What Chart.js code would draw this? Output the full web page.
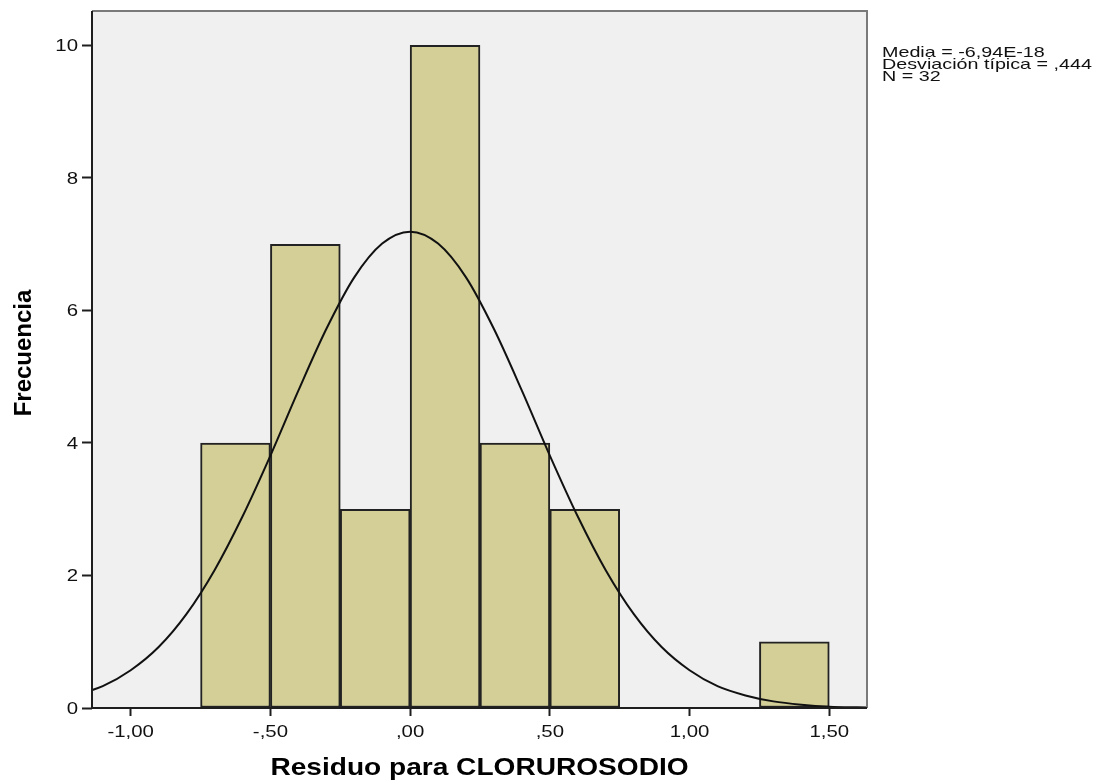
<!DOCTYPE html>
<html>
<head>
<meta charset="utf-8">
<title>Histograma de residuos</title>
<script src="https://cdn.jsdelivr.net/npm/chart.js@4.4.1/dist/chart.umd.min.js"></script>
<style>
  html, body { margin: 0; padding: 0; background: #ffffff; }
  #wrap { width: 1103px; height: 781px; }
</style>
</head>
<body>
<div id="wrap"><canvas id="c" width="1103" height="781"></canvas></div>
<script>
// Histogram bins (residual intervals) and their counts
const binStarts = [-0.75, -0.5, -0.25, 0, 0.25, 0.5, 1.25];
const binEnds = [-0.5, -0.25, 0, 0.25, 0.5, 0.75, 1.5];
const frequencies = [4, 7, 3, 10, 4, 3, 1];

// Fitted normal curve, sampled along the residual axis
const curveX = [-1.2, -1.1, -1.0, -0.9, -0.8, -0.7, -0.6, -0.5, -0.4, -0.3, -0.2, -0.1, 0,
                0.1, 0.2, 0.3, 0.4, 0.5, 0.6, 0.7, 0.8, 0.9, 1.0, 1.1, 1.2, 1.3, 1.4, 1.5, 1.6, 1.7];
const curveY = [0.19, 0.33, 0.57, 0.92, 1.42, 2.08, 2.89, 3.81, 4.79, 5.72, 6.50, 7.01, 7.19,
                7.01, 6.50, 5.72, 4.79, 3.81, 2.89, 2.08, 1.42, 0.92, 0.57, 0.33, 0.19, 0.10, 0.05, 0.02, 0.01, 0.005];

// Axis ticks
const xTickValues = [-1, -0.5, 0, 0.5, 1, 1.5];
const xTickLabels = ['-1,00', '-,50', ',00', ',50', '1,00', '1,50'];
const yTickValues = [0, 2, 4, 6, 8, 10];
const yTickLabels = ['0', '2', '4', '6', '8', '10'];

// Titles and summary statistics
const xTitle = 'Residuo para CLORUROSODIO';
const yTitle = 'Frecuencia';
const statsLines = ['Media = -6,94E-18', 'Desviación típica = ,444', 'N = 32'];

const barData = frequencies.map((f, i) => ({ x: (binStarts[i] + binEnds[i]) / 2, y: f }));
const curveData = curveX.map((x, i) => ({ x: x, y: curveY[i] }));

const FONT = '"Liberation Sans", Arial, Helvetica, sans-serif';
const TEXT_SX = 1.2;

function wideText(ctx, text, x, y, align, sx) {
  ctx.save();
  ctx.translate(x, y);
  ctx.scale(sx, 1);
  ctx.textAlign = align;
  ctx.fillText(text, 0, 0);
  ctx.restore();
}

// Plot background, frame and all text labels
const framePlugin = {
  id: 'frame',
  beforeDraw(chart) {
    const { ctx, chartArea: a } = chart;
    ctx.save();
    ctx.fillStyle = '#ffffff';
    ctx.fillRect(0, 0, chart.width, chart.height);
    ctx.fillStyle = '#f0f0f0';
    ctx.fillRect(a.left, a.top, a.right - a.left, a.bottom - a.top);
    ctx.restore();
  },
  afterDraw(chart) {
    const { ctx, chartArea: a, scales } = chart;
    ctx.save();
    // frame: grey top/right, dark left/bottom
    ctx.lineWidth = 2;
    ctx.strokeStyle = '#7a7a7a';
    ctx.beginPath();
    ctx.moveTo(a.left, a.top);
    ctx.lineTo(a.right, a.top);
    ctx.lineTo(a.right, a.bottom);
    ctx.stroke();
    ctx.strokeStyle = '#1e1e1e';
    ctx.beginPath();
    ctx.moveTo(a.left, a.top);
    ctx.lineTo(a.left, a.bottom);
    ctx.lineTo(a.right, a.bottom);
    ctx.stroke();

    ctx.fillStyle = '#111111';
    ctx.textBaseline = 'alphabetic';
    ctx.font = '17px ' + FONT;
    xTickValues.forEach((v, i) => {
      wideText(ctx, xTickLabels[i], scales.x.getPixelForValue(v), a.bottom + 29, 'center', TEXT_SX);
    });
    ctx.textBaseline = 'middle';
    yTickValues.forEach((v, i) => {
      wideText(ctx, yTickLabels[i], a.left - 14, scales.y.getPixelForValue(v) + 1, 'right', TEXT_SX);
    });

    ctx.fillStyle = '#000000';
    ctx.textBaseline = 'alphabetic';
    ctx.font = 'bold 24px ' + FONT;
    wideText(ctx, xTitle, (a.left + a.right) / 2, a.bottom + 67, 'center', 1.17);

    ctx.save();
    ctx.translate(31, 353);
    ctx.rotate(-Math.PI / 2);
    ctx.textAlign = 'center';
    ctx.fillText(yTitle, 0, 0);
    ctx.restore();

    ctx.fillStyle = '#111111';
    ctx.font = '14.5px ' + FONT;
    statsLines.forEach((line, i) => {
      wideText(ctx, line, a.right + 15, 57 + i * 12, 'left', 1.36);
    });
    ctx.restore();
  }
};

new Chart(document.getElementById('c'), {
  type: 'bar',
  data: {
    datasets: [
      {
        type: 'line',
        data: curveData,
        borderColor: '#111111',
        borderWidth: 2,
        pointRadius: 0,
        cubicInterpolationMode: 'monotone',
        fill: false,
        order: 0
      },
      {
        type: 'bar',
        data: barData,
        backgroundColor: '#d3cf97',
        borderColor: '#222222',
        borderWidth: 2,
        borderSkipped: false,
        barPercentage: 1,
        categoryPercentage: 1,
        order: 1
      }
    ]
  },
  options: {
    responsive: false,
    animation: false,
    devicePixelRatio: 1,
    layout: { padding: { top: 11, right: 236, left: 0, bottom: 0 } },
    plugins: { legend: { display: false }, tooltip: { enabled: false } },
    scales: {
      x: {
        type: 'linear',
        min: -1.1385,
        max: 1.635,
        offset: false,
        grid: { drawOnChartArea: false, drawTicks: true, tickLength: 8, tickColor: '#1e1e1e', tickWidth: 2, offset: false },
        border: { display: false },
        ticks: { display: false },
        afterBuildTicks(scale) { scale.ticks = xTickValues.map(v => ({ value: v })); },
        afterFit(scale) { scale.height = 73; }
      },
      y: {
        type: 'linear',
        min: 0,
        max: 10.52,
        grid: { drawOnChartArea: false, drawTicks: true, tickLength: 10, tickColor: '#1e1e1e', tickWidth: 2 },
        border: { display: false },
        ticks: { display: false },
        afterBuildTicks(scale) { scale.ticks = yTickValues.map(v => ({ value: v })); },
        afterFit(scale) { scale.width = 92; }
      }
    }
  },
  plugins: [framePlugin]
});
</script>
</body>
</html>
